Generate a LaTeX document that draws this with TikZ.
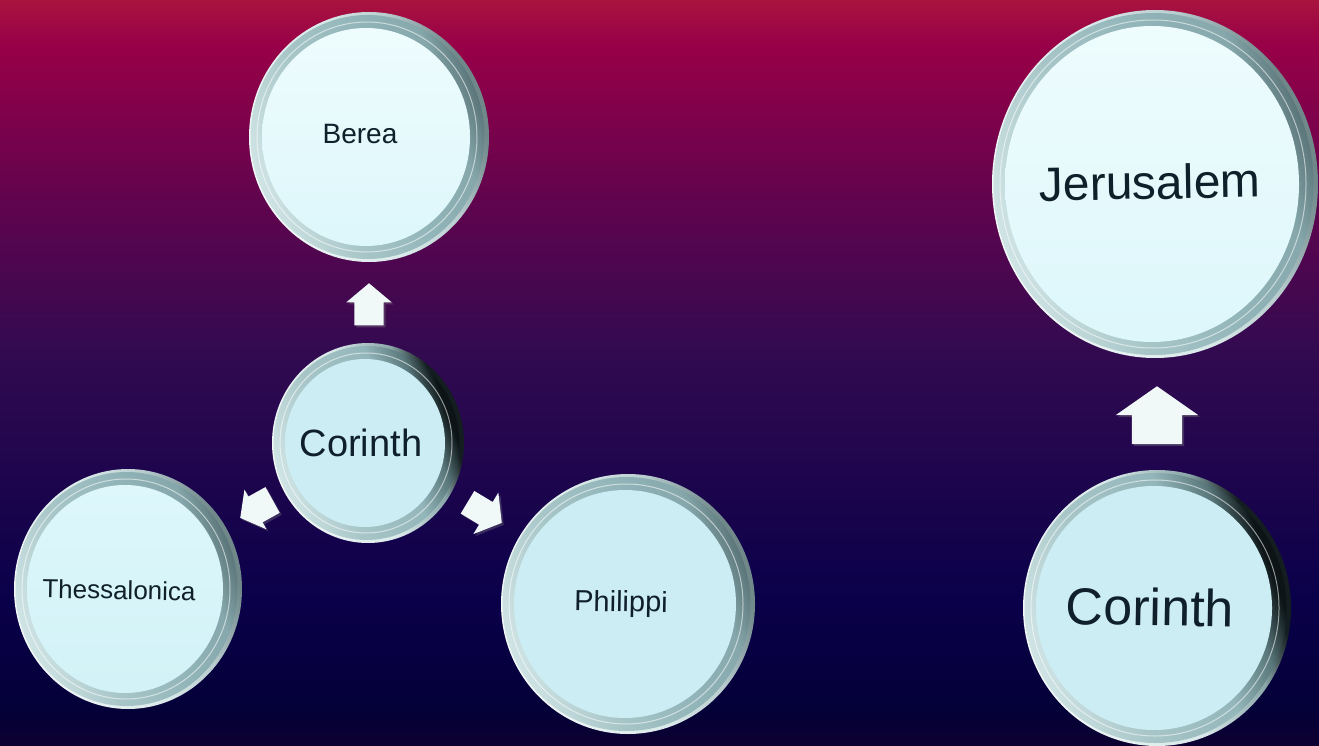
\documentclass[tikz,border=0pt]{standalone}
\usepackage{fontspec}
\setmainfont{Liberation Sans}
\usetikzlibrary{shapes.geometric,shapes.arrows,shadows}
\definecolor{ArrowFill}{HTML}{F0F8F8}
\definecolor{textcol}{HTML}{10202A}
\definecolor{bga}{HTML}{0C0030}
\definecolor{bgb}{HTML}{040038}
\definecolor{bgc}{HTML}{0A004A}
\definecolor{bgd}{HTML}{320A50}
\definecolor{bge}{HTML}{60044E}
\definecolor{bgf}{HTML}{980048}
\definecolor{bgg}{HTML}{A8143E}
\definecolor{roa}{HTML}{141E20}
\definecolor{rob}{HTML}{8AA6A8}
\definecolor{roc}{HTML}{D8E8E8}
\definecolor{roe}{HTML}{F2F8F8}
\definecolor{rla}{HTML}{70888A}
\definecolor{rlb}{HTML}{B8CCCE}
\definecolor{rba}{HTML}{5A7478}
\definecolor{rbb}{HTML}{86A8AC}
\definecolor{rbc}{HTML}{93B6BA}
\definecolor{rbd}{HTML}{A8C6C8}
\definecolor{rbe}{HTML}{D0E4E5}
\definecolor{rda}{HTML}{0C1416}
\definecolor{rdb}{HTML}{5A787C}
\definecolor{CBED}{HTML}{CBEDF3}
\definecolor{EEFC}{HTML}{EEFCFD}
\definecolor{DDF7}{HTML}{DDF7FB}
\definecolor{D2F2}{HTML}{D2F2F7}
\pgfdeclareverticalshading{bgshade}{100bp}{
  color(0bp)=(bga);
  color(25bp)=(bga);
  color(27.5bp)=(bgb);
  color(35bp)=(bgc);
  color(51.5bp)=(bgd);
  color(61.5bp)=(bge);
  color(72bp)=(bgf);
  color(75bp)=(bgg);
  color(100bp)=(bgg)}
\pgfdeclareverticalshading{outerdark}{100bp}{
  color(0bp)=(roa);
  color(29bp)=(roa);
  color(36bp)=(rob);
  color(50bp)=(roc);
  color(75bp)=(roe);
  color(100bp)=(roe)}
\pgfdeclareverticalshading{outerlight}{100bp}{
  color(0bp)=(rla);
  color(27bp)=(rla);
  color(38bp)=(rlb);
  color(50bp)=(roc);
  color(75bp)=(roe);
  color(100bp)=(roe)}
\pgfdeclareverticalshading{bandlight}{100bp}{
  color(0bp)=(rba);
  color(25bp)=(rba);
  color(32bp)=(rbb);
  color(45bp)=(rbc);
  color(60bp)=(rbd);
  color(75bp)=(rbe);
  color(100bp)=(rbe)}
\pgfdeclareverticalshading{banddark}{100bp}{
  color(0bp)=(rda);
  color(27bp)=(rda);
  color(33bp)=(rdb);
  color(42bp)=(rbc);
  color(60bp)=(rbd);
  color(75bp)=(rbe);
  color(100bp)=(rbe)}
\tikzset{
  x=1pt,y=-1pt,
  faceplain/.style={top color=CBED,bottom color=CBED},
  facepale/.style={top color=EEFC,bottom color=DDF7},
  facemid/.style={top color=DDF7,bottom color=D2F2},
  orbface/.style={ellipse,inner sep=0pt},
  orbtext/.style={text=textcol,inner sep=0pt},
  blockarrow/.style={shape=single arrow,anchor=tip,inner sep=0pt,fill=ArrowFill,draw=none,
    single arrow head indent=0pt,
    drop shadow={opacity=.35,shadow xshift=2pt,shadow yshift=-2pt}},
}
% #1 name, #2 x, #3 y, #4 rx, #5 ry, #6 face style, #7 outer shading, #8 band shading
\newcommand{\orb}[8]{%
  \pgfmathsetmacro{\fx}{#4-16}\pgfmathsetmacro{\fy}{#5-16}%
  \pgfmathsetmacro{\gx}{#4-3}\pgfmathsetmacro{\gy}{#5-3}%
  \pgfmathsetmacro{\hx}{#4-10}\pgfmathsetmacro{\hy}{#5-10}%
  \shade[shading=#7,shading angle=110] (#2,#3) ellipse [x radius=#4,y radius=#5];
  \shade[shading=#8,shading angle=110] (#2-1.5,#3) ellipse [x radius=\gx,y radius=\gy];
  \draw[white,line width=1pt,opacity=.55] (#2-2,#3) ellipse [x radius=\hx,y radius=\hy];
  \node[orbface,#6,minimum width=2*\fx pt,minimum height=2*\fy pt] (#1) at (#2-3,#3) {};
}
\begin{document}
\begin{tikzpicture}
\useasboundingbox (0,0) rectangle (1319,746);
\shade[shading=bgshade] (0,0) rectangle (1319,746);
\orb{berea}{369}{137}{120}{125}{facepale}{outerlight}{bandlight}
\orb{corinthA}{368}{443}{96}{100}{faceplain}{outerdark}{banddark}
\orb{thess}{128}{589}{114}{120}{facemid}{outerlight}{bandlight}
\orb{phil}{628}{604}{127}{130}{faceplain}{outerlight}{bandlight}
\orb{jeru}{1155}{184}{163}{174}{facepale}{outerlight}{bandlight}
\orb{corinthB}{1157}{608}{134}{138}{faceplain}{outerdark}{banddark}
\node[orbtext,font=\fontsize{28}{28}\selectfont] (tBerea) at (360,134) {Berea};
\node[orbtext,font=\fontsize{38}{38}\selectfont] (tCorA) at (361,443) {Corinth};
\node[orbtext,rotate=-1,font=\fontsize{26}{26}\selectfont] (tThess) at (119,590) {Thessalonica};
\node[orbtext,rotate=-1,font=\fontsize{29}{29}\selectfont] (tPhil) at (621,604) {Philippi};
\node[orbtext,rotate=1,font=\fontsize{48}{48}\selectfont] (tJeru) at (1150,182) {Jerusalem};
\node[orbtext,rotate=-1,font=\fontsize{52}{52}\selectfont] (tCorB) at (1150,607) {Corinth};
\coordinate (tipA) at (369,283);
\coordinate (tipB) at (240,518);
\coordinate (tipC) at (502,523);
\coordinate (tipD) at (1157,386);
\node[blockarrow,rotate=90,minimum height=42pt,single arrow head extend=8pt,single arrow tip angle=100] (arrA) at (tipA) {\rule{0pt}{29pt}};
\node[blockarrow,rotate=209,minimum height=37pt,single arrow head extend=8pt,single arrow tip angle=105] (arrB) at (tipB) {\rule{0pt}{29pt}};
\node[blockarrow,rotate=-31,minimum height=40pt,single arrow head extend=11pt,single arrow tip angle=105] (arrC) at (tipC) {\rule{0pt}{26pt}};
\node[blockarrow,rotate=90,minimum height=58pt,single arrow head extend=16pt,single arrow tip angle=110] (arrD) at (tipD) {\rule{0pt}{50pt}};
\end{tikzpicture}
\end{document}
